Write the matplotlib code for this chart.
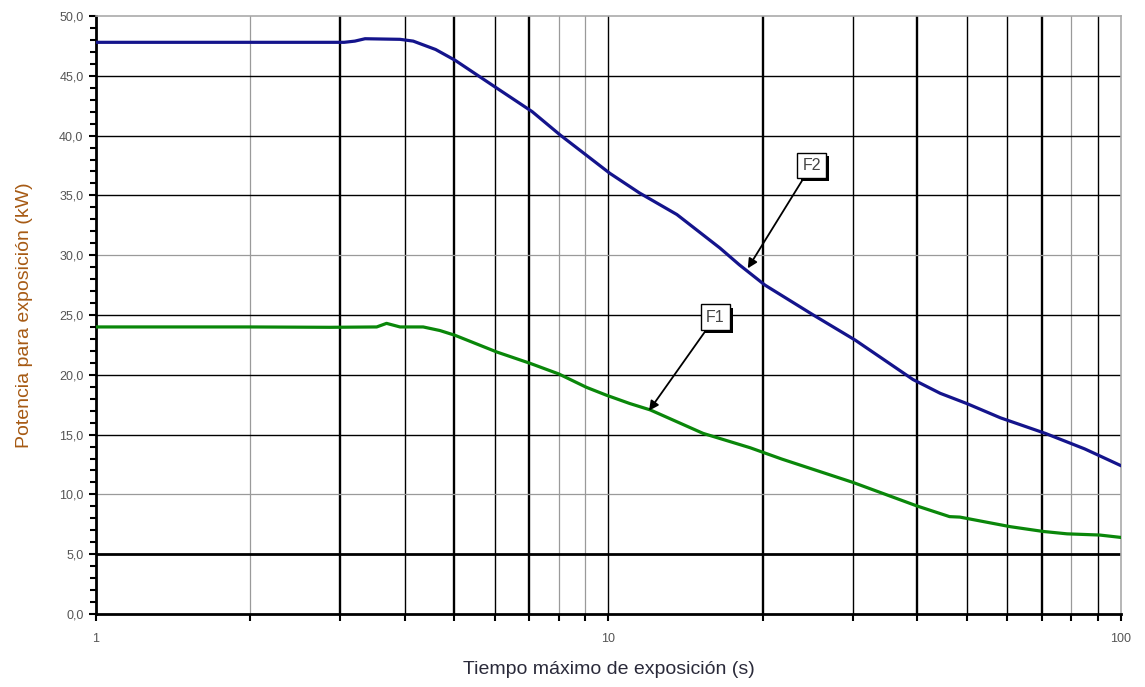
import matplotlib.pyplot as plt
from matplotlib.ticker import FixedLocator, FuncFormatter, NullFormatter
from matplotlib import patheffects as pe

# Tiempo (s) / potencia (kW)
f2_t = [1, 2, 3.05, 3.2, 3.35, 3.92, 4.16, 4.6, 5.02, 6.06, 7.1, 8.05, 10.06, 11.5,
        13.6, 16.5, 18.0, 20.2, 25.1, 30.3, 39.3, 44.4, 50, 58.2, 71.2, 85, 100]
f2_p = [47.8, 47.8, 47.8, 47.9, 48.1, 48.05, 47.9, 47.2, 46.3, 43.96, 42.0, 40.05,
        36.85, 35.2, 33.4, 30.6, 29.2, 27.5, 25.0, 22.9, 19.6, 18.45, 17.6, 16.4,
        15.1, 13.8, 12.4]

f1_t = [1, 2, 2.86, 3.53, 3.69, 3.92, 4.35, 4.69, 5.02, 6.06, 7.03, 8.0, 9.06, 9.9,
        11.0, 12.07, 15.3, 18.9, 21.8, 30.0, 40.0, 46.3, 48.5, 60.8, 70.5, 78.5,
        90.9, 100]
f1_p = [24.0, 24.0, 23.97, 24.0, 24.3, 24.0, 24.0, 23.7, 23.3, 21.9, 20.96, 20.07,
        18.95, 18.3, 17.6, 17.06, 15.1, 13.9, 12.95, 11.0, 9.03, 8.14, 8.1, 7.3,
        6.9, 6.7, 6.6, 6.4]

x_grid = [2, 3, 4, 5, 6, 7, 8, 9, 10, 20, 30, 40, 50, 60, 70, 80, 90]
y_grid = [5, 10, 15, 20, 25, 30, 35, 40, 45]

# estilo de las lineas de rejilla (como en el original)
thick_x = {3, 5, 7, 20, 40, 70}
gray_x = {2, 8, 9, 80}
thick_y = {5}
gray_y = {10, 30}

fig = plt.figure(figsize=(11.45, 6.87), dpi=100)
ax = fig.add_axes([0.0838, 0.1063, 0.8952, 0.8704])
ax.set_xscale("log")
ax.set_xlim(1, 100)
ax.set_ylim(0, 50)

for v in x_grid:
    if v in thick_x:
        ax.axvline(v, color="black", lw=1.7, zorder=1)
    elif v in gray_x:
        ax.axvline(v, color="#9a9a9a", lw=0.9, zorder=1)
    else:
        ax.axvline(v, color="black", lw=1.0, zorder=1)
for v in y_grid:
    if v in thick_y:
        ax.axhline(v, color="black", lw=2.0, zorder=1)
    elif v in gray_y:
        ax.axhline(v, color="#9a9a9a", lw=0.9, zorder=1)
    else:
        ax.axhline(v, color="black", lw=1.0, zorder=1)

ax.plot(f2_t, f2_p, color="#14148c", lw=2.3, zorder=3)
ax.plot(f1_t, f1_p, color="#0a870a", lw=2.3, zorder=3)

# etiquetas F1 / F2 con flecha
box = dict(boxstyle="square,pad=0.32", fc="white", ec="black", lw=1.0)
for label, tip, tail in [("F2", (18.7, 28.9), (23.9, 36.9)),
                         ("F1", (12.0, 17.0), (15.5, 24.2))]:
    t = ax.annotate(label, xy=tip, xytext=tail, fontsize=11.5, color="#444444",
                    family="Liberation Sans", ha="left", va="bottom", bbox=box,
                    arrowprops=dict(arrowstyle="-|>", color="black", lw=1.3,
                                    mutation_scale=14, shrinkA=0, shrinkB=0),
                    zorder=5)
    t.get_bbox_patch().set_path_effects([
        pe.SimplePatchShadow(offset=(2.5, -2.5), shadow_rgbFace="black", alpha=1),
        pe.Normal()])

ax.yaxis.set_major_locator(FixedLocator(list(range(0, 51, 5))))
ax.yaxis.set_minor_locator(FixedLocator(list(range(0, 51, 1))))
ax.yaxis.set_major_formatter(FuncFormatter(lambda v, p: f"{v:.1f}".replace(".", ",")))
ax.xaxis.set_major_locator(FixedLocator([1, 10, 100]))
ax.xaxis.set_minor_locator(FixedLocator(x_grid))
ax.xaxis.set_major_formatter(FuncFormatter(lambda v, p: f"{v:g}"))
ax.xaxis.set_minor_formatter(NullFormatter())

ax.tick_params(axis="both", which="both", direction="out", color="black", width=1.5)
ax.tick_params(axis="y", which="major", length=5, labelsize=9, labelcolor="#555555", pad=4)
ax.tick_params(axis="y", which="minor", length=4)
ax.tick_params(axis="x", which="both", length=5, labelsize=9, labelcolor="#555555", pad=9)
for lab in ax.get_xticklabels() + ax.get_yticklabels():
    lab.set_family("Liberation Sans")

ax.spines["left"].set_linewidth(2.0)
ax.spines["bottom"].set_linewidth(2.0)
for s in ("top", "right"):
    ax.spines[s].set_color("#aaaaaa")
    ax.spines[s].set_linewidth(1.2)

ax.set_xlabel("Tiempo máximo de exposición (s)", fontsize=14, color="#2a2a3a",
              family="Liberation Sans", labelpad=11)
ax.set_ylabel("Potencia para exposición (kW)", fontsize=14, color="#a65a14",
              family="Liberation Sans", labelpad=19)

fig.savefig("out.png", dpi=100)
